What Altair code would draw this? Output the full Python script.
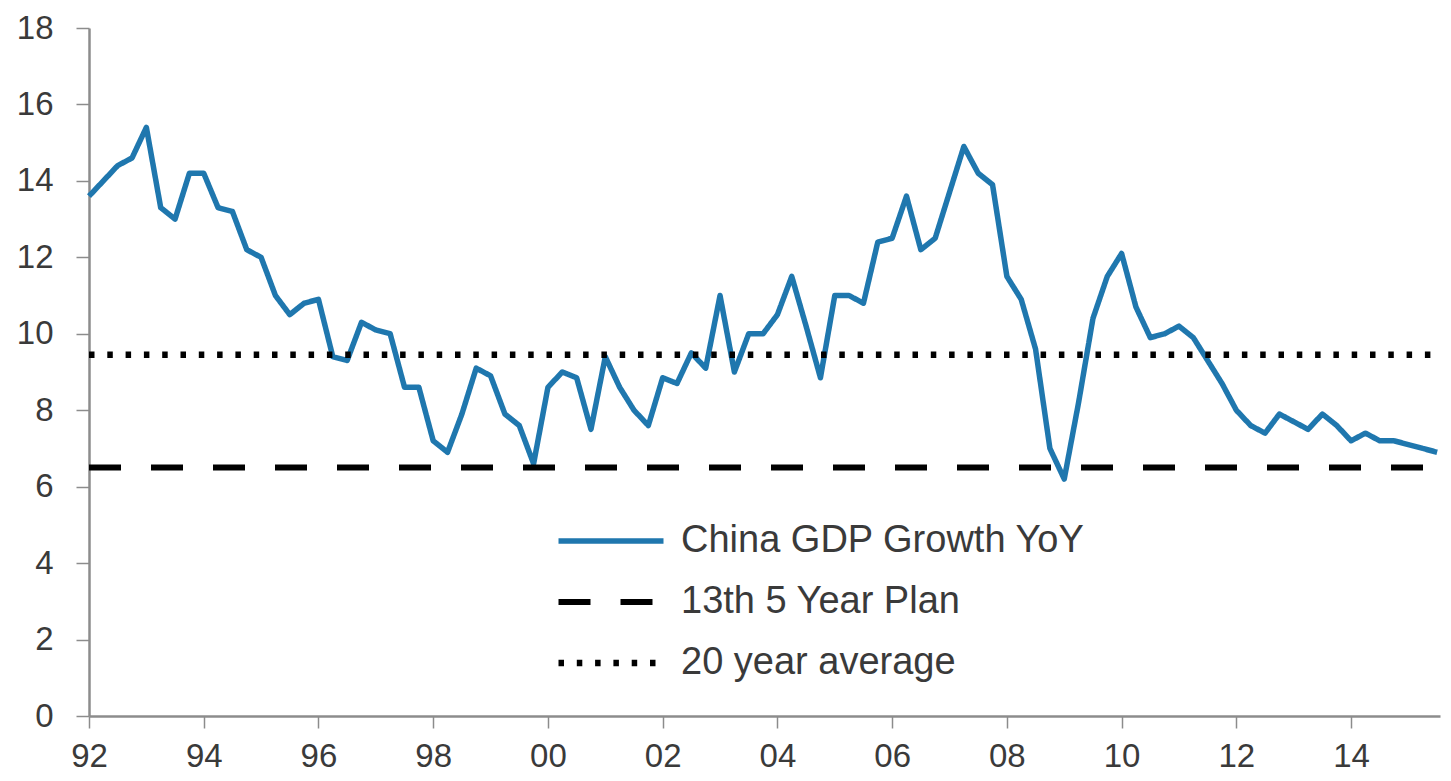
import altair as alt
import pandas as pd

# ---- data ----
start_year = 1992  # first quarter: 1992 Q1
gdp_growth_yoy = [
    13.6, 14.0, 14.4, 14.6,   # 1992
    15.4, 13.3, 13.0, 14.2,   # 1993
    14.2, 13.3, 13.2, 12.2,   # 1994
    12.0, 11.0, 10.5, 10.8,   # 1995
    10.9, 9.4, 9.3, 10.3,     # 1996
    10.1, 10.0, 8.6, 8.6,     # 1997
    7.2, 6.9, 7.9, 9.1,       # 1998
    8.9, 7.9, 7.6, 6.6,       # 1999
    8.6, 9.0, 8.85, 7.5,      # 2000
    9.4, 8.6, 8.0, 7.6,       # 2001
    8.85, 8.7, 9.5, 9.1,      # 2002
    11.0, 9.0, 10.0, 10.0,    # 2003
    10.5, 11.5, 10.2, 8.85,   # 2004
    11.0, 11.0, 10.8, 12.4,   # 2005
    12.5, 13.6, 12.2, 12.5,   # 2006
    13.7, 14.9, 14.2, 13.9,   # 2007
    11.5, 10.9, 9.6, 7.0,     # 2008
    6.2, 8.2, 10.4, 11.5,     # 2009
    12.1, 10.7, 9.9, 10.0,    # 2010
    10.2, 9.9, 9.3, 8.7,      # 2011
    8.0, 7.6, 7.4, 7.9,       # 2012
    7.7, 7.5, 7.9, 7.6,       # 2013
    7.2, 7.4, 7.2, 7.2,       # 2014
    7.1, 7.0, 6.9,            # 2015
]
plan_target = 6.5
twenty_year_avg = 9.45
series_names = ["China GDP Growth YoY", "13th 5 Year Plan", "20 year average"]
series_colors = ["#1f77ae", "#000000", "#000000"]
x_ticks = list(range(1992, 2015, 2))
y_ticks = list(range(0, 19, 2))
x_end = 2015.55

FONT = "Liberation Sans"
TEXT = "#3a3a3a"
AXIS = "#8c8c8c"

t = [start_year + i / 4 for i in range(len(gdp_growth_yoy))]
df_gdp = pd.DataFrame({"t": t, "value": gdp_growth_yoy, "series": series_names[0]})
df_ref = pd.DataFrame({
    "t": [start_year, x_end, start_year, x_end],
    "value": [plan_target, plan_target, twenty_year_avg, twenty_year_avg],
    "series": [series_names[1]] * 2 + [series_names[2]] * 2,
})

legend = alt.Legend(
    title=None, orient="none", legendX=466, legendY=494,
    symbolType="stroke", symbolSize=11025, symbolStrokeWidth=6,
    clipHeight=38, rowPadding=23, labelOffset=14, labelLimit=0,
    labelFont=FONT, labelFontSize=38, labelColor=TEXT,
)

x_enc = alt.X(
    "t:Q", title=None,
    scale=alt.Scale(domain=[1992, x_end], nice=False, zero=False),
    axis=alt.Axis(values=x_ticks, labelExpr="substring(toString(datum.value), 2, 4)",
                  tickSize=12, labelPadding=12, labelAlign="center"),
)
y_enc = alt.Y(
    "value:Q", title=None,
    scale=alt.Scale(domain=[0, 18], nice=False),
    axis=alt.Axis(values=y_ticks, tickSize=13, labelPadding=23),
)
color_enc = alt.Color("series:N", scale=alt.Scale(domain=series_names, range=series_colors), legend=legend)
dash_enc = alt.StrokeDash(
    "series:N",
    scale=alt.Scale(domain=series_names, range=[[1, 0], [32, 30], [5.5, 12.8]]),
    legend=legend,
)
width_enc = alt.StrokeWidth(
    "series:N", scale=alt.Scale(domain=series_names, range=[5.5, 6.5, 5.5]), legend=None
)

gdp = alt.Chart(df_gdp).mark_line(strokeJoin="round").encode(
    x=x_enc, y=y_enc, color=color_enc, strokeDash=dash_enc, strokeWidth=width_enc
)
refs = alt.Chart(df_ref).mark_line().encode(
    x=x_enc, y=y_enc, color=color_enc, strokeDash=dash_enc, strokeWidth=width_enc,
    detail="series:N",
)

chart = (
    alt.layer(gdp, refs)
    .properties(
        width=1351, height=688,
        autosize=alt.AutoSizeParams(type="none"),
        padding={"left": 81, "top": 20, "right": 2, "bottom": 57},
        background="white",
    )
    .configure_view(stroke=None)
    .configure_axis(
        grid=False, domainColor=AXIS, domainWidth=2.5, tickColor=AXIS, tickWidth=1.5,
        labelFont=FONT, labelFontSize=33, labelColor=TEXT,
    )
)

chart.save("out.html", embed_options={"renderer": "svg", "actions": False})
